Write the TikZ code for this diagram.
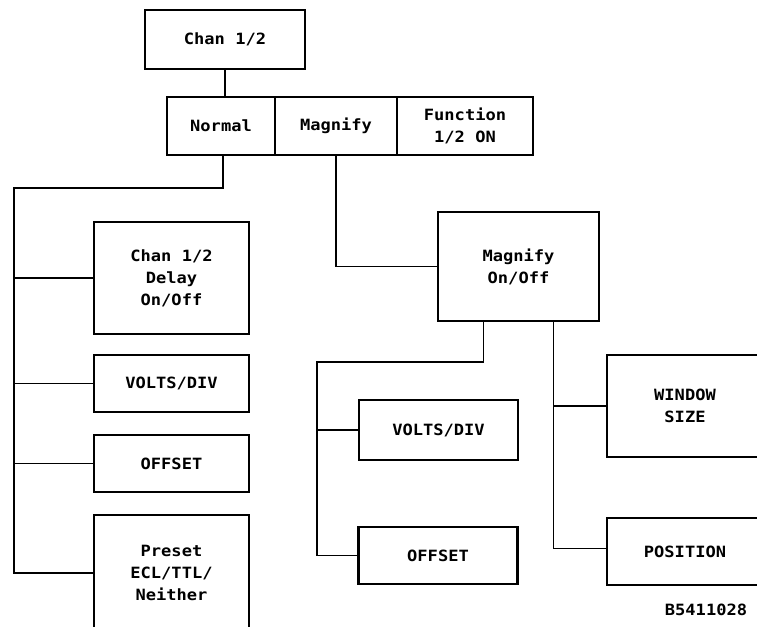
\documentclass[tikz,border=0pt]{standalone}
\usepackage{fontspec}
\newfontfamily\plotfont[FakeStretch=1.1]{DejaVu Sans Mono}
\begin{document}
\begin{tikzpicture}[x=1pt,y=-1pt,
  box/.style={draw=black, line width=2.4pt, fill=white, inner sep=0pt, align=center,
    font=\plotfont\bfseries\fontsize{15.5pt}{22pt}\selectfont},
  conn/.style={draw=black, line width=1.6pt},
  lbl/.style={font=\plotfont\bfseries\fontsize{15.5pt}{22pt}\selectfont, inner sep=0pt}]
\useasboundingbox (0,0) rectangle (757,626);
\clip (0,0) rectangle (757,626);
% top
\node[box, minimum width=160pt, minimum height=59pt] (chan) at (225,39.5) {Chan 1/2};
\node[box, minimum width=108pt, minimum height=58pt] (normal) at (221,126) {Normal};
\node[box, minimum width=122pt, minimum height=58pt] (magnify) at (336,126) {Magnify};
\node[box, minimum width=136pt, minimum height=58pt] (function) at (465,126) {Function\\1/2 ON};
% left column
\node[box, minimum width=155pt, minimum height=112pt] (delay) at (171.5,278) {Chan 1/2\\Delay\\On/Off};
\node[box, minimum width=155pt, minimum height=57pt] (lvolts) at (171.5,383.5) {VOLTS/DIV};
\node[box, minimum width=155pt, minimum height=57pt] (loffset) at (171.5,463.5) {OFFSET};
\node[box, minimum width=155pt, minimum height=116pt] (preset) at (171.5,573) {Preset\\ECL/TTL/\\Neither};
% magnify branch
\node[box, minimum width=161pt, minimum height=109pt] (magon) at (518.5,266.5) {Magnify\\On/Off};
\node[box, minimum width=159pt, minimum height=60pt] (mvolts) at (438.5,430) {VOLTS/DIV};
\node[box, minimum width=159pt, minimum height=57pt] (moffset) at (438,555.5) {OFFSET};
\node[box, minimum width=156pt, minimum height=102pt] (window) at (685,406) {WINDOW\\SIZE};
\node[box, minimum width=156pt, minimum height=67pt] (position) at (685,551.5) {POSITION};
\node[lbl] (fig) at (706,610) {B5411028};
% coordinates for bus lines
\coordinate (lb) at (14,188);
\coordinate (mb) at (317,362);
\coordinate (ml) at ([xshift=-35pt]magon.south);
\coordinate (mr) at ([xshift=35pt]magon.south);
% connectors
\draw[conn] (chan.south) -- (chan.south |- normal.north);
\draw[conn] ([xshift=2pt]normal.south) |- (lb) -- (lb |- preset.west) -- (preset.west);
\draw[conn] (lb |- delay.west) -- (delay.west);
\draw[conn] (lb |- lvolts.west) -- (lvolts.west);
\draw[conn] (lb |- loffset.west) -- (loffset.west);
\draw[conn] (magnify.south) |- (magon.west);
\draw[conn] (ml) |- (mb) -- (mb |- moffset.west) -- (moffset.west);
\draw[conn] (mb |- mvolts.west) -- (mvolts.west);
\draw[conn] (mr) |- ([yshift=3pt]position.west);
\draw[conn] (mr |- window.west) -- (window.west);
\end{tikzpicture}
\end{document}
